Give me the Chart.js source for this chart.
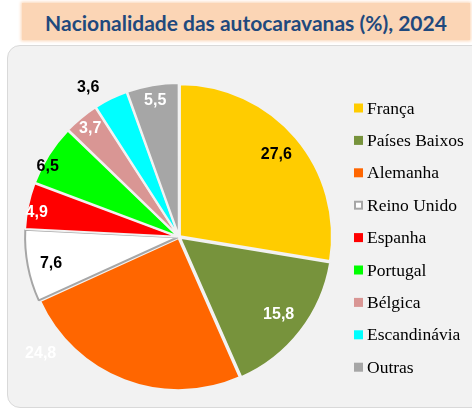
<!DOCTYPE html>
<html>
<head>
<meta charset="utf-8">
<script src="https://cdn.jsdelivr.net/npm/chart.js@4"></script>
<style>
  html, body { margin: 0; padding: 0; background: #ffffff; }
  #wrap { position: relative; width: 472px; height: 410px; overflow: hidden; }
  #titlebox {
    position: absolute; left: 22px; top: 3px; width: 448px; height: 37px;
    background: #FBD5B5; box-shadow: 0 0 3px 1px #FBD5B5;
  }
  #title {
    position: absolute; left: 22px; top: 4px; width: 448px; height: 37px;
    line-height: 37px; text-align: center;
    font-family: Lato, "Open Sans", sans-serif; font-weight: bold; font-size: 21px;
    color: #1F497D;
  }
  #panel {
    position: absolute; left: 7px; top: 45px; width: 480px; height: 361px;
    background: #F2F2F2; border: 1px solid #D9D9D9; border-radius: 13px;
  }
  #c { position: absolute; left: 0; top: 0; }
</style>
</head>
<body>
<div id="wrap">
  <div id="titlebox"></div>
  <div id="title">Nacionalidade das autocaravanas (%), 2024</div>
  <div id="panel"></div>
  <canvas id="c" width="472" height="410"></canvas>
</div>
<script>
const categories = ['França', 'Países Baixos', 'Alemanha', 'Reino Unido', 'Espanha', 'Portugal', 'Bélgica', 'Escandinávia', 'Outras'];
const shares = [27.6, 15.8, 24.8, 7.6, 4.9, 6.5, 3.7, 3.6, 5.5];

const sliceColors = ['#FFCC00', '#77933C', '#FF6600', '#FFFFFF', '#FF0000', '#00FF00', '#D99694', '#00FFFF', '#A6A6A6'];
const sliceBorders = ['#F2F2F2', '#F2F2F2', '#F2F2F2', '#A6A6A6', '#F2F2F2', '#F2F2F2', '#F2F2F2', '#F2F2F2', '#F2F2F2'];

const labelPlugin = {
  id: 'sliceLabels',
  afterDatasetsDraw(chart, args, opts) {
    const ctx = chart.ctx;
    const meta = chart.getDatasetMeta(0);
    const values = chart.data.datasets[0].data;
    ctx.save();
    ctx.font = 'bold 16px "Liberation Sans", Arial, sans-serif';
    ctx.textAlign = 'center';
    ctx.textBaseline = 'middle';
    meta.data.forEach((arc, i) => {
      const p = arc.getProps(['x', 'y', 'startAngle', 'endAngle', 'outerRadius'], true);
      const mid = (p.startAngle + p.endAngle) / 2 + (opts.angleShift[i] || 0) * Math.PI / 180;
      const r = p.outerRadius * opts.radius[i];
      ctx.fillStyle = opts.colors[i];
      ctx.fillText(values[i].toFixed(1).replace('.', ','), p.x + Math.cos(mid) * r, p.y + Math.sin(mid) * r);
    });
    ctx.restore();
  }
};

const legendPlugin = {
  id: 'sideLegend',
  afterDraw(chart, args, opts) {
    const ctx = chart.ctx;
    const ds = chart.data.datasets[0];
    ctx.save();
    ctx.font = opts.font;
    ctx.textBaseline = 'middle';
    ctx.textAlign = 'left';
    chart.data.labels.forEach((lab, i) => {
      const y = opts.top + i * opts.step;
      const bx = opts.left, s = opts.box;
      if (ds.backgroundColor[i] === '#FFFFFF') {
        ctx.fillStyle = '#FFFFFF';
        ctx.fillRect(bx, y - s / 2, s, s);
        ctx.strokeStyle = '#A6A6A6';
        ctx.lineWidth = 2;
        ctx.strokeRect(bx + 1, y - s / 2 + 1, s - 2, s - 2);
      } else {
        ctx.fillStyle = ds.backgroundColor[i];
        ctx.fillRect(bx, y - s / 2, s, s);
      }
      ctx.fillStyle = '#000000';
      ctx.fillText(lab, bx + s + 4, y + 1);
    });
    ctx.restore();
  }
};

new Chart(document.getElementById('c'), {
  type: 'pie',
  data: {
    labels: categories,
    datasets: [{
      data: shares,
      backgroundColor: sliceColors,
      borderColor: sliceBorders,
      borderWidth: 2,
      offset: 5
    }]
  },
  options: {
    responsive: false,
    animation: false,
    radius: 152,
    layout: { padding: { left: 29, right: 143, top: 87, bottom: 23 } },
    plugins: {
      legend: { display: false },
      tooltip: { enabled: false },
      sliceLabels: {
        radius: [0.84, 0.83, 1.19, 0.86, 0.95, 0.98, 0.92, 1.15, 0.91],
        angleShift: [0, 0, 29, -1, -2, -4, 0, -5, 0],
        colors: ['#000000', '#FFFFFF', '#FFFFFF', '#000000', '#FFFFFF', '#000000', '#FFFFFF', '#000000', '#FFFFFF']
      },
      sideLegend: { left: 354, top: 108, step: 32.4, box: 9, font: '17.5px "Liberation Serif", serif' }
    }
  },
  plugins: [labelPlugin, legendPlugin]
});
</script>
</body>
</html>
